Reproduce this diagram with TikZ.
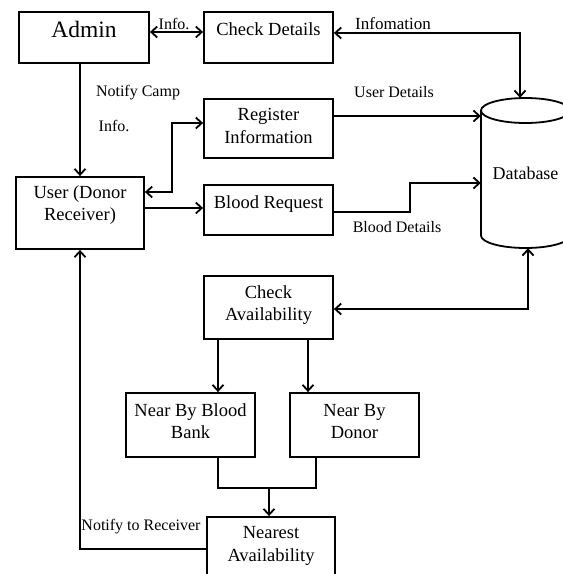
\documentclass[tikz,border=0pt]{standalone}
\usepackage{fontspec}
\setmainfont{Liberation Serif}
\usetikzlibrary{arrows.meta}
\begin{document}
\begin{tikzpicture}[x=1pt,y=-1pt,
  >={Straight Barb[length=6pt,width=11pt]},
  line/.style={line width=1.8pt},
  box/.style={draw,line width=1.8pt,inner sep=0pt,minimum width=129pt},
  boxtext/.style={align=center,inner sep=0pt,font=\fontsize{18.5}{22.5}\selectfont},
  flowlabel/.style={inner sep=0pt,font=\fontsize{16}{19}\selectfont}]

\useasboundingbox (0,0) rectangle (563,574);
\clip (0,0) rectangle (563,574);

% process boxes
\node[box,minimum width=130pt,minimum height=51pt] (admin) at (84,37.5) {};
\node[box,minimum height=51pt] (cd)   at (268.5,37.5) {};
\node[box,minimum height=59pt] (reg)  at (268.5,128.5) {};
\node[box,minimum height=50pt] (br)   at (268.5,210) {};
\node[box,minimum width=128pt,minimum height=72pt] (user) at (80,213) {};
\node[box,minimum height=63pt] (ca)   at (268.5,307.5) {};
\node[box,minimum height=64pt] (nbbb) at (190.5,425) {};
\node[box,minimum height=64pt] (nbd)  at (354.5,425) {};
\node[box,minimum width=128pt,minimum height=73pt] (na) at (271,553.5) {};

% box captions
\node[boxtext,font=\fontsize{23.5}{28}\selectfont] (admin-t) at ([yshift=8.5pt]admin.center) {Admin};
\node[boxtext] (cd-t)   at ([yshift=8.5pt]cd.center) {Check Details};
\node[boxtext] (reg-t)  at ([yshift=2.5pt]reg.center) {Register\\Information};
\node[boxtext] (br-t)   at ([yshift=6pt]br.center) {Blood Request};
\node[boxtext] (user-t) at ([yshift=8pt]user.center) {User (Donor\\Receiver)};
\node[boxtext] (ca-t)   at ([yshift=2.5pt]ca.center) {Check\\Availability};
\node[boxtext] (nbbb-t) at ([yshift=4pt]nbbb.center) {Near By Blood\\Bank};
\node[boxtext] (nbd-t)  at ([yshift=3.5pt]nbd.center) {Near By\\Donor};
\node[boxtext] (na-t)   at ([yshift=7.5pt]na.center) {Nearest\\Availability};

% database cylinder
\draw[line] (481,110.5) -- (481,235.5)
  .. controls (481,242.4) and (500.9,248) .. (525.5,248)
  .. controls (550.1,248) and (570,242.4) .. (570,235.5) -- (570,110.5);
\draw[line] (525.5,110.5) ellipse [x radius=44.5, y radius=12.5];
\node[inner sep=0pt,minimum width=89pt,minimum height=150pt,
      font=\fontsize{18}{22}\selectfont] (db) at (525.5,173) {Database};

% flows
\draw[line,<->] ([yshift=5.5pt]admin.east) -- ([yshift=5.5pt]cd.west);
\node[flowlabel] (l-info1) at (174,23.5) {Info.};

\draw[line,<->] ([yshift=4.5pt]cd.east) -| ([xshift=-5.5pt]db.north);
\node[flowlabel,font=\fontsize{17}{20}\selectfont] (l-infomation) at (393,24) {Infomation};

\draw[line,->] (user.north |- admin.south) -- (user.north);
\node[flowlabel] (l-notify) at (138,93) {Notify Camp};
\node[flowlabel] (l-info2) at (114,126) {Info.};

\draw[line,<->] ([yshift=5.5pt]reg.west) -- ++(-31,0) |- ([yshift=21pt]user.east);

\coordinate (ud) at ([yshift=12.5pt]reg.east);
\draw[line,->] (ud) -- (ud -| db.west);
\node[flowlabel] (l-ud) at (394,92) {User Details};

\coordinate (ur) at ([yshift=5pt]user.east);
\draw[line,->] (ur) -- (ur -| br.west);

\coordinate (bd) at ([yshift=-2pt]br.east);
\draw[line,->] (bd) -- ++(76,0) |- ([yshift=-10pt]db.west);
\node[flowlabel] (l-bd) at (397,227) {Blood Details};

\draw[line,<->] ([yshift=-1.5pt]ca.east) -| ([xshift=2.5pt]db.south);

\draw[line,->] ([xshift=27.5pt]nbbb.north |- ca.south) -- ([xshift=27.5pt]nbbb.north);
\draw[line,->] ([xshift=-46.5pt]nbd.north |- ca.south) -- ([xshift=-46.5pt]nbd.north);

\coordinate (merge) at ([xshift=-2pt,yshift=28pt]na.north);
\draw[line] ([xshift=27.5pt]nbbb.south) |- (merge) -| ([xshift=-38.5pt]nbd.south);
\draw[line,->] (merge) -- (merge |- na.north);

\draw[line,->] ([yshift=4.5pt]na.west) -| (user.south);
\node[flowlabel] (l-ntr) at (141,527) {Notify to Receiver};
\end{tikzpicture}
\end{document}
